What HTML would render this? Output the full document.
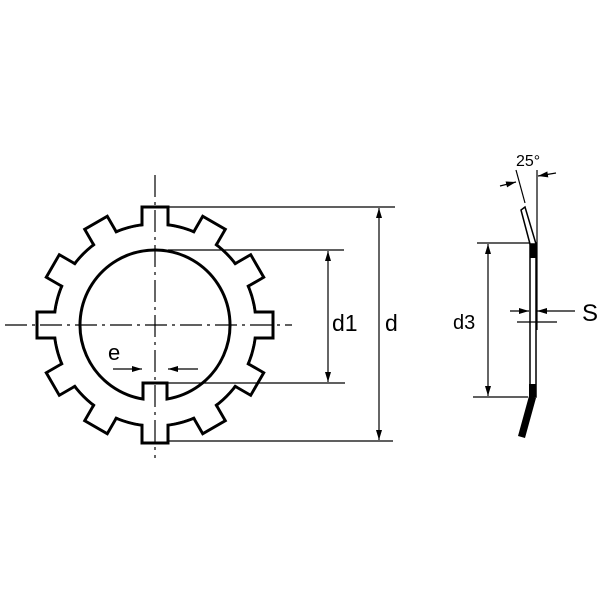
<!DOCTYPE html>
<html><head><style>body{margin:0;background:#fff}svg{display:block}</style></head><body>
<svg width="600" height="600" viewBox="0 0 600 600" xmlns="http://www.w3.org/2000/svg" font-family="Liberation Sans, sans-serif">
<defs>
<marker id="a" viewBox="0 0 10 6" refX="10" refY="3" markerWidth="10" markerHeight="6" markerUnits="userSpaceOnUse" orient="auto"><path d="M0,0 L10,3 L0,6 Z" fill="#000"/></marker>
</defs>
<g transform="translate(155,325)">
<g stroke="#000" stroke-width="3" fill="none">
<circle r="101"/>
<rect x="-13" y="-118" width="26" height="28"/>
<rect x="-13" y="-118" width="26" height="28" transform="rotate(30)"/>
<rect x="-13" y="-118" width="26" height="28" transform="rotate(60)"/>
<rect x="-13" y="-118" width="26" height="28" transform="rotate(90)"/>
<rect x="-13" y="-118" width="26" height="28" transform="rotate(120)"/>
<rect x="-13" y="-118" width="26" height="28" transform="rotate(150)"/>
<rect x="-13" y="-118" width="26" height="28" transform="rotate(180)"/>
<rect x="-13" y="-118" width="26" height="28" transform="rotate(210)"/>
<rect x="-13" y="-118" width="26" height="28" transform="rotate(240)"/>
<rect x="-13" y="-118" width="26" height="28" transform="rotate(270)"/>
<rect x="-13" y="-118" width="26" height="28" transform="rotate(300)"/>
<rect x="-13" y="-118" width="26" height="28" transform="rotate(330)"/>
</g>
<g fill="#fff">
<rect x="-11.5" y="-116.5" width="23" height="30"/>
<rect x="-11.5" y="-116.5" width="23" height="30" transform="rotate(30)"/>
<rect x="-11.5" y="-116.5" width="23" height="30" transform="rotate(60)"/>
<rect x="-11.5" y="-116.5" width="23" height="30" transform="rotate(90)"/>
<rect x="-11.5" y="-116.5" width="23" height="30" transform="rotate(120)"/>
<rect x="-11.5" y="-116.5" width="23" height="30" transform="rotate(150)"/>
<rect x="-11.5" y="-116.5" width="23" height="30" transform="rotate(180)"/>
<rect x="-11.5" y="-116.5" width="23" height="30" transform="rotate(210)"/>
<rect x="-11.5" y="-116.5" width="23" height="30" transform="rotate(240)"/>
<rect x="-11.5" y="-116.5" width="23" height="30" transform="rotate(270)"/>
<rect x="-11.5" y="-116.5" width="23" height="30" transform="rotate(300)"/>
<rect x="-11.5" y="-116.5" width="23" height="30" transform="rotate(330)"/>
<circle r="99.5"/>
</g>
</g>
<path d="M143,399 A75,75 0 1,1 167,399 L167,383 L143,383 Z" fill="none" stroke="#000" stroke-width="3"/>
<g stroke="#000" stroke-width="1.2" stroke-dasharray="22,5,3,5">
<line x1="155" y1="175" x2="155" y2="458"/>
<line x1="5" y1="325" x2="292" y2="325"/>
</g>
<g stroke="#000" stroke-width="1.2" fill="none">
<line x1="168" y1="207" x2="395" y2="207"/>
<line x1="168" y1="441" x2="393" y2="441"/>
<line x1="168" y1="250" x2="344" y2="250"/>
<line x1="168" y1="383" x2="345" y2="383"/>
<line x1="379" y1="230" x2="379" y2="208" marker-end="url(#a)"/>
<line x1="379" y1="230" x2="379" y2="440" marker-end="url(#a)"/>
<line x1="328" y1="300" x2="328" y2="251" marker-end="url(#a)"/>
<line x1="328" y1="300" x2="328" y2="382" marker-end="url(#a)"/>
<line x1="113" y1="369" x2="142" y2="369" marker-end="url(#a)"/>
<line x1="198" y1="369" x2="168" y2="369" marker-end="url(#a)"/>
</g>
<text x="332" y="331" font-size="23">d1</text>
<text x="385" y="331" font-size="23">d</text>
<text x="108" y="360" font-size="22">e</text>
<!-- side view -->
<rect x="530" y="243" width="6" height="154" fill="#fff" stroke="#000" stroke-width="1.5"/>
<rect x="530" y="243" width="6" height="15" fill="#000"/>
<rect x="529" y="384" width="7" height="13" fill="#000"/>
<path d="M530,244 L521,210 L525,207 L536,244 Z" fill="#fff" stroke="#000" stroke-width="1.5"/>
<path d="M529,396 L518,436 L525,438 L536,398 Z" fill="#000"/>
<g stroke="#000" stroke-width="1.2" fill="none">
<line x1="477" y1="243" x2="530" y2="243"/>
<line x1="473" y1="397" x2="528" y2="397"/>
<line x1="488" y1="300" x2="488" y2="244" marker-end="url(#a)"/>
<line x1="488" y1="300" x2="488" y2="396" marker-end="url(#a)"/>
<line x1="510" y1="311" x2="529" y2="311" marker-end="url(#a)"/>
<line x1="575" y1="311" x2="537" y2="311" marker-end="url(#a)"/>
<line x1="517" y1="322" x2="557" y2="322"/>
<line x1="537" y1="170" x2="537" y2="330"/>
<line x1="516" y1="170" x2="525" y2="203"/>
<line x1="500" y1="186" x2="516" y2="182" marker-end="url(#a)"/>
<line x1="556" y1="173" x2="538" y2="176" marker-end="url(#a)"/>
</g>
<text x="516" y="166" font-size="16">25°</text>
<text x="453" y="329" font-size="20">d3</text>
<text x="582" y="321" font-size="24">S</text>
</svg>
</body></html>
